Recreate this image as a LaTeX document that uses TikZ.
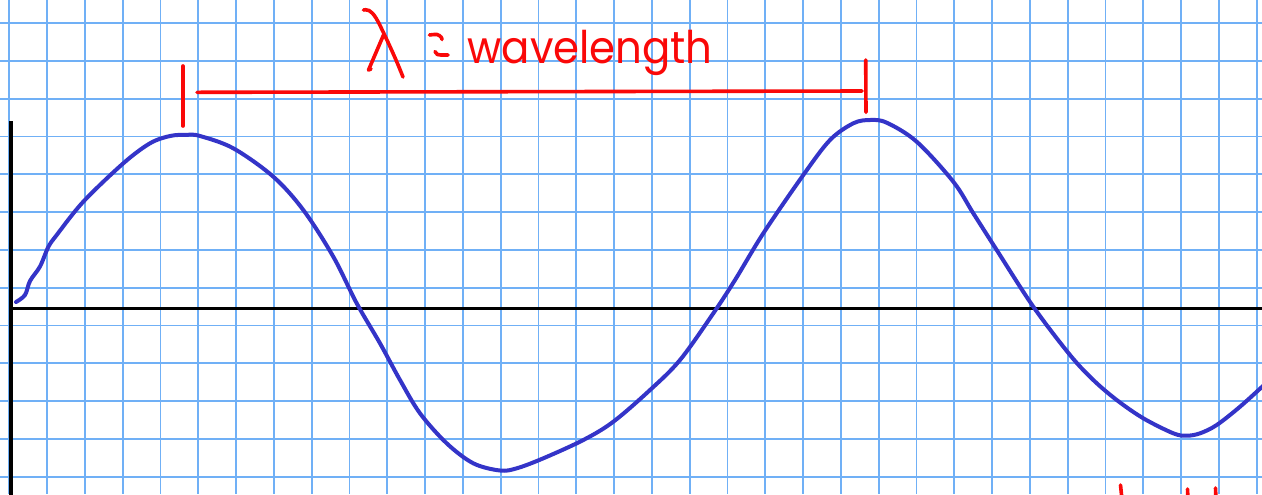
\documentclass[tikz,border=0pt]{standalone}
\usepackage{fontspec}
\setmainfont{Poppins}
\usepackage{xcolor}
\definecolor{gridBlue}{RGB}{112, 176, 246}
\definecolor{waveBlue}{RGB}{52, 52, 200}
\definecolor{markRed}{RGB}{250, 8, 8}
\usepackage{tikz}
\usetikzlibrary{positioning}

\begin{document}
\begin{tikzpicture}[
    x=0.5pt, y=-0.5pt,
    gridLine/.style={
        draw=gridBlue, line width=0.9pt
    },
    axisLine/.style={
        draw=black, line width=1.7pt
    },
    waveCurve/.style={
        draw=waveBlue, line width=2pt, line cap=round, line join=round
    },
    markLine/.style={
        draw=markRed, line width=1.8pt, line cap=round, line join=round
    },
    labelText/.style={
        text=markRed, font=\fontsize{22.5}{26}\selectfont, inner sep=0pt
    }
]

    % Paper
    \useasboundingbox (0, 0) rectangle (1262, 494);
    \clip (0, 0) rectangle (1262, 494);
    \fill[white] (0, 0) rectangle (1262, 494);

    % Grid
    \foreach \k in {0,...,33} {
        \draw[gridLine] ({9.3 + 37.8*\k}, 0) -- ({9.3 + 37.8*\k}, 494);
    }
    \foreach \k in {0,...,12} {
        \draw[gridLine] (0, {23 + 37.8*\k}) -- (1262, {23 + 37.8*\k});
    }

    % Axes
    \coordinate (axTop) at (11, 121);
    \coordinate (axCorner) at (11, 308.3);
    \coordinate (axBottom) at (11, 500);
    \coordinate (axRight) at (1265, 308.3);
    \draw[axisLine] (axTop) -- (axBottom);
    \draw[axisLine] (axCorner) -- (axRight);

    % Wave
    \draw[waveCurve] plot[smooth, tension=0.55] coordinates {
        (16, 302) (25, 295) (30, 281) (40, 266.5) (48.3, 247) (56.7, 235)
        (83.3, 201.7) (123.3, 163.3) (150, 143.3) (170, 136) (186.7, 134.8)
        (200, 136) (233.3, 148.3) (273.3, 176.7) (303.3, 210) (333.3, 256.7)
        (356.7, 303.3) (380, 343.3) (400, 380) (420, 413.3) (446.7, 443.3)
        (473.3, 463.3) (500, 470.5) (516.7, 468.3) (543.3, 458.3) (583.3, 440)
        (613.3, 421.7) (650, 390) (680, 360) (713.3, 313.3) (735, 280)
        (763.3, 233.3) (803.3, 175) (830, 140) (853.3, 123.3) (870, 120)
        (886.7, 122.7) (916.7, 141.7) (953.3, 181.7) (973.3, 213.3)
        (996.7, 250) (1033.3, 306.7) (1070, 355) (1093.3, 380) (1116.7, 400)
        (1143.3, 418.3) (1173.3, 433.3) (1186.7, 435.7) (1200, 433.3)
        (1216.7, 425) (1240, 406.7) (1264, 385)
    };

    % Wavelength bar
    \coordinate (tickLa) at (183, 66);
    \coordinate (tickLb) at (183, 126);
    \coordinate (barL) at (197, 92.3);
    \coordinate (barR) at (862, 91);
    \coordinate (tickRa) at (865.7, 60);
    \coordinate (tickRb) at (866, 112.3);
    \draw[markLine] (tickLa) -- (tickLb);
    \draw[markLine] (barL) -- (barR);
    \draw[markLine] (tickRa) -- (tickRb);

    % Lambda and sign, hand written
    \draw[markLine] plot[smooth, tension=0.6] coordinates {
        (363.5, 10) (369, 10.5) (376, 18) (386, 38) (396, 60) (403, 77)
    };
    \draw[markLine] (383.5, 35) -- (368.5, 70) -- (371, 69);
    \draw[markLine] plot[smooth, tension=0.6] coordinates {
        (429.5, 35) (437, 34.5) (441, 37) (442, 39.5)
    };
    \draw[markLine] plot[smooth, tension=0.6] coordinates {
        (435, 51.5) (437.5, 54.5) (441, 55) (448, 55)
    };
    \node[labelText, anchor=base west] (waveLabel) at (467, 63.3) {\scalebox{0.93}[1]{wavelength}};

    % Marks cut off at the bottom
    \draw[markLine] (1120.5, 485) -- (1122, 500);
    \draw[markLine] (1187.5, 489) -- (1188, 500);
    \draw[markLine] (1215.5, 488) -- (1216, 500);

\end{tikzpicture}
\end{document}
